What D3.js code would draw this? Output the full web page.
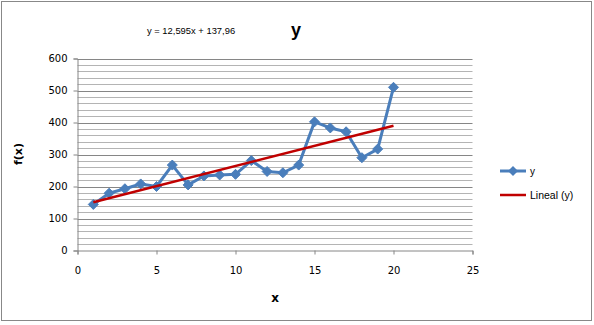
<!DOCTYPE html>
<html lang="en">
    <head>
        <meta charset="utf-8">
        <title>y</title>
        <script src="https://d3js.org/d3.v7.min.js"></script>
        <style type="text/css">
            body{
                margin: 0;
                background: white;
            }
            svg{
                display: block;
            }
            .axis text{
                font-family: "DejaVu Sans", sans-serif;
                font-size: 10px;
                fill: black;
            }
        </style>
    </head>
    <body>
        <svg width="594" height="325"></svg>
        <script type="text/javascript">

            // data
            const xValues = [1, 2, 3, 4, 5, 6, 7, 8, 9, 10, 11, 12, 13, 14, 15, 16, 17, 18, 19, 20];
            const yValues = [144, 179, 193, 208, 200, 267, 205, 233, 236, 238, 281, 247, 243, 267, 402, 383, 371, 290, 317, 510];
            const xTicks = [0, 5, 10, 15, 20, 25];
            const yTicks = [0, 100, 200, 300, 400, 500, 600];
            const yMinor = d3.range(0, 601, 20);
            const trendSlope = 12.595;
            const trendIntercept = 137.96;
            const trendRange = [1, 20];

            const svg = d3.select("svg");

            const plotLeft = 77.5, plotRight = 472.5, plotTop = 58.5, plotBottom = 250.5;

            const xscale = d3.scaleLinear().domain([0, 25]).range([plotLeft, plotRight]);
            const yscale = d3.scaleLinear().domain([0, 600]).range([plotBottom, plotTop]);

            // outer frame
            svg.append("rect")
                .attr("x", 1.5).attr("y", 1.5)
                .attr("width", 590).attr("height", 319)
                .attr("fill", "white")
                .attr("stroke", "#888")
                .attr("stroke-width", 1);

            // minor grid
            svg.append("g")
                .selectAll("line")
                .data(yMinor.filter(v => v % 100 != 0))
                .join("line")
                .attr("x1", plotLeft).attr("x2", plotRight)
                .attr("y1", d => Math.round(yscale(d)) + 0.5)
                .attr("y2", d => Math.round(yscale(d)) + 0.5)
                .attr("stroke", "#b4b4b4");

            // major grid
            svg.append("g")
                .selectAll("line")
                .data(yTicks.filter(v => v > 0))
                .join("line")
                .attr("x1", plotLeft).attr("x2", plotRight)
                .attr("y1", d => Math.round(yscale(d)) + 0.5)
                .attr("y2", d => Math.round(yscale(d)) + 0.5)
                .attr("stroke", "#868686");

            const bot = svg.append("g")
                .attr("class", "axis")
                .attr("transform", "translate(0," + plotBottom + ")")
                .call(d3.axisBottom(xscale).tickValues(xTicks).tickSize(4).tickPadding(12));
            bot.selectAll("path, line").attr("stroke", "#868686");

            const lft = svg.append("g")
                .attr("class", "axis")
                .attr("transform", "translate(" + plotLeft + ",0)")
                .call(d3.axisLeft(yscale).tickValues(yTicks).tickSize(4).tickPadding(6));
            lft.selectAll("path, line").attr("stroke", "#868686");

            // series line
            const line = d3.line()
                .x((d, i) => xscale(xValues[i]))
                .y(d => yscale(d));

            svg.append("path")
                .datum(yValues)
                .attr("d", line)
                .attr("fill", "none")
                .attr("stroke", "#4a7ebb")
                .attr("stroke-width", 3)
                .attr("stroke-linejoin", "round");

            const diamond = "M0,-5L5,0L0,5L-5,0Z";

            svg.append("g")
                .selectAll("path")
                .data(yValues)
                .join("path")
                .attr("d", diamond)
                .attr("transform", (d, i) => "translate(" + xscale(xValues[i]) + "," + yscale(d) + ")")
                .attr("fill", "#4a7ebb")
                .attr("stroke", "#4a7ebb")
                .attr("stroke-width", 1);

            // trend line
            svg.append("line")
                .attr("x1", xscale(trendRange[0]))
                .attr("y1", yscale(trendSlope * trendRange[0] + trendIntercept))
                .attr("x2", xscale(trendRange[1]))
                .attr("y2", yscale(trendSlope * trendRange[1] + trendIntercept))
                .attr("stroke", "#c00000")
                .attr("stroke-width", 2.5);

            // texts
            svg.append("text")
                .attr("x", 296).attr("y", 36)
                .attr("text-anchor", "middle")
                .attr("font-family", "Liberation Sans, Arial, sans-serif")
                .attr("font-size", "18px")
                .attr("font-weight", "bold")
                .text("y");

            svg.append("text")
                .attr("x", 147).attr("y", 34)
                .attr("font-family", "Liberation Sans, Arial, sans-serif")
                .attr("font-size", "9.4px")
                .text("y = 12,595x + 137,96");

            svg.append("text")
                .attr("x", 275).attr("y", 302)
                .attr("text-anchor", "middle")
                .attr("font-family", "DejaVu Sans, sans-serif")
                .attr("font-size", "12px")
                .attr("font-weight", "bold")
                .text("x");

            svg.append("text")
                .attr("transform", "translate(22,154) rotate(-90)")
                .attr("text-anchor", "middle")
                .attr("font-family", "DejaVu Sans, sans-serif")
                .attr("font-size", "11px")
                .attr("font-weight", "bold")
                .text("f(x)");

            // legend
            const legend = svg.append("g").attr("transform", "translate(500,0)");
            legend.append("line")
                .attr("x1", 0).attr("x2", 26).attr("y1", 171).attr("y2", 171)
                .attr("stroke", "#4a7ebb").attr("stroke-width", 3);
            legend.append("path")
                .attr("d", diamond)
                .attr("transform", "translate(13,171)")
                .attr("fill", "#4a7ebb");
            legend.append("text")
                .attr("x", 30).attr("y", 174.5)
                .attr("font-family", "Liberation Sans, Arial, sans-serif")
                .attr("font-size", "10px")
                .text("y");
            legend.append("line")
                .attr("x1", 0).attr("x2", 26).attr("y1", 195).attr("y2", 195)
                .attr("stroke", "#c00000").attr("stroke-width", 2.5);
            legend.append("text")
                .attr("x", 30).attr("y", 198.5)
                .attr("font-family", "Liberation Sans, Arial, sans-serif")
                .attr("font-size", "10.5px")
                .text("Lineal (y)");

        </script>
    </body>
</html>
